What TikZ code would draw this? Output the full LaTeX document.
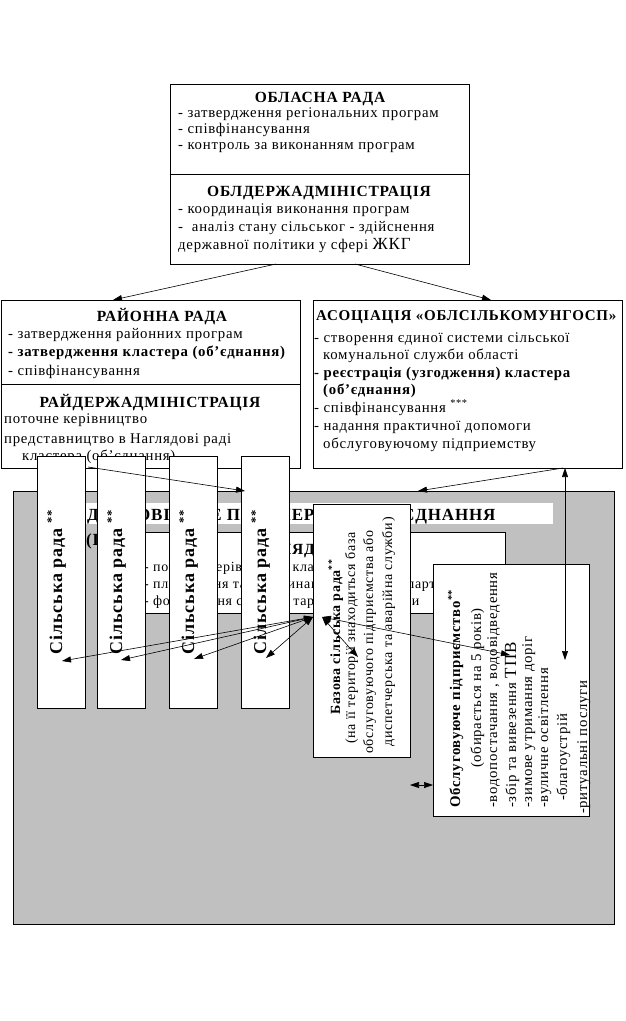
\documentclass[tikz,border=0pt]{standalone}
\usepackage{fontspec}
\setmainfont{Liberation Serif}[LetterSpace=5]
\usetikzlibrary{arrows.meta}
\definecolor{silverbg}{RGB}{192,192,192}
\tikzset{
  box/.style={draw, line width=0.9pt, fill=white, inner sep=0pt, outer sep=0pt, anchor=north west},
  rg/.style={font=\fontsize{14.8}{17}\selectfont, inner sep=0pt, anchor=base west},
  rgs/.style={font=\fontsize{14}{16}\selectfont, inner sep=0pt, anchor=base west},
  bl/.style={font=\fontsize{14.8}{17}\selectfont\bfseries, inner sep=0pt, anchor=base west},
  hd/.style={font=\fontsize{15.5}{18}\selectfont\bfseries, inner sep=0pt, anchor=base},
  ttl/.style={font=\fontsize{17}{20}\selectfont\bfseries, inner sep=0pt, anchor=base west},
  vrg/.style={font=\fontsize{14.8}{17}\selectfont, inner sep=0pt, rotate=90, anchor=base west},
  vrs/.style={font=\fontsize{14}{16}\selectfont, inner sep=0pt, rotate=90, anchor=base},
  vbl/.style={font=\fontsize{14.8}{17}\selectfont\bfseries, inner sep=0pt, rotate=90, anchor=base west},
  vil/.style={font=\fontsize{18}{20}\selectfont\bfseries, inner sep=0pt, rotate=90, anchor=base},
  arr/.style={line width=0.6pt, -{Triangle[length=9pt,width=6pt]}},
  darr/.style={line width=0.6pt, {Triangle[length=9pt,width=6pt]}-{Triangle[length=9pt,width=6pt]}},
}
\begin{document}
\begin{tikzpicture}[x=1pt,y=-1pt]
\useasboundingbox (0,0) rectangle (626,1021);
\fill[white] (0,0) rectangle (626,1021);

% ---- top box
\node[box, minimum width=299pt, minimum height=180pt] (obl) at (170,84) {};
\node[hd] (t01) at (320,102) {ОБЛАСНА РАДА};
\node[rg] (t02) at (178,117) {- затвердження регіональних програм};
\node[rg] (t03) at (178,133) {- співфінансування};
\node[rg] (t04) at (178,149) {- контроль за виконанням програм};
\draw[line width=0.9pt] (170,174) -- (469,174);
\node[hd] (t05) at (319,196) {ОБЛДЕРЖАДМІНІСТРАЦІЯ};
\node[rg] (t06) at (178,213) {- координація виконання програм};
\node[rg] (t07) at (178,231) {-~ аналіз стану сільськог - здійснення};
\node[rg] (t08) at (178,249) {державної політики у сфері {\fontsize{17}{19}\selectfont ЖКГ}};

% ---- district box
\node[box, minimum width=299pt, minimum height=168pt] (rai) at (1,300) {};
\node[hd] (t10) at (162,321) {РАЙОННА РАДА};
\node[rg] (t11) at (8,338) {- затвердження районних програм};
\node[bl] (t12) at (8,356) {- затвердження кластера (об’єднання)};
\node[rg] (t13) at (8,375) {- співфінансування};
\draw[line width=0.9pt] (1,384) -- (300,384);
\node[hd] (t14) at (150,407) {РАЙДЕРЖАДМІНІСТРАЦІЯ};
\node[rg] (t15) at (4,423) {поточне керівництво};
\node[rg] (t16) at (4,443) {представництво в Наглядові раді};
\node[rg] (t17) at (22,460) {кластера (об’єднання)};

% ---- association box
\node[box, minimum width=309pt, minimum height=168pt] (aso) at (313,300) {};
\node[hd, anchor=base west, font=\fontsize{15}{18}\selectfont\bfseries] (t20) at (316,320) {АСОЦІАЦІЯ «ОБЛСІЛЬКОМУНГОСП»};
\node[rg] (t21) at (314,342) {- створення єдиної системи сільської};
\node[rg] (t22) at (323,359) {комунальної служби області};
\node[bl] (t23) at (314,377) {- реєстрація (узгодження) кластера};
\node[bl] (t24) at (323,394) {(об’єднання)};
\node[rg] (t25) at (314,412) {- співфінансування \textsuperscript{***}};
\node[rg] (t26) at (314,430) {- надання практичної допомоги};
\node[rg] (t27) at (323,448) {обслуговуючому підприемству};

% ---- cluster area
\node[box, fill=silverbg, minimum width=601pt, minimum height=433pt] (clu) at (13,491) {};
\node[fill=white, inner sep=0pt, outer sep=0pt, anchor=north west, minimum width=503pt, minimum height=21pt] (strip) at (50,503) {};
\node[ttl] (t30) at (87,520) {ДОБРОВІЛЬНЕ ПАРТНЕРСЬКЕ ОБ’ЄДНАННЯ};
\node[ttl] (t31) at (86,545) {(ПАРТНЕРСТВО)};

% ---- supervisory board
\node[box, minimum width=365pt, minimum height=81pt] (nag) at (140,532) {};
\node[hd] (t32) at (322,554) {НАГЛЯДОВА РАДА};
\node[rgs] (t33) at (144,571) {- поточне керівництво кластера};
\node[rgs] (t34) at (144,588) {- планування та координація діяльності партнерів};
\node[rgs] (t35) at (144,605) {- формування системи тарифів на послуги};

% ---- base village council
\node[box, minimum width=97pt, minimum height=253pt] (bas) at (313,504) {};
\node[vrs, font=\fontsize{14}{16}\selectfont\bfseries] (t40) at (340,637) {Базова сільська рада\textsuperscript{**}};
\node[vrs] (t41) at (355,638) {(на її території знаходиться база};
\node[vrs] (t42) at (373,642) {обслуговуючого підприємства або};
\node[vrs] (t43) at (392,632) {диспетчерська та аварійна служби)};

% ---- service enterprise
\node[box, minimum width=156pt, minimum height=252pt] (srv) at (433,564) {};
\node[vbl] (t50) at (460,808) {Обслуговуюче підприємство\textsuperscript{**}};
\node[vrg, anchor=base] (t51) at (481,688) {(обирається на 5 років)};
\node[vrg] (t52) at (497,808) {-водопостачання , водовідведення};
\node[vrg] (t53) at (516,808) {-збір та вивезення {\fontsize{17}{19}\selectfont ТПВ}};
\node[vrg] (t54) at (532,808) {-зимове утримання доріг};
\node[vrg] (t55) at (548,808) {-вуличне освітлення};
\node[vrg] (t56) at (567,801) {-благоустрій};
\node[vrg] (t57) at (587,814) {-ритуальні послуги};

% ---- village councils
\node[box, minimum width=48pt, minimum height=252pt] (v1) at (37,456) {};
\node[box, minimum width=48pt, minimum height=252pt] (v2) at (97,456) {};
\node[box, minimum width=48pt, minimum height=252pt] (v3) at (169,456) {};
\node[box, minimum width=48pt, minimum height=252pt] (v4) at (241,456) {};
\node[vil] (tv1) at (62,582) {Сільська рада \textsuperscript{**}};
\node[vil] (tv2) at (122,582) {Сільська рада \textsuperscript{**}};
\node[vil] (tv3) at (194,582) {Сільська рада \textsuperscript{**}};
\node[vil] (tv4) at (266,582) {Сільська рада \textsuperscript{**}};

% ---- connectors
\coordinate (a1s) at (276,264); \coordinate (a1e) at (113,300);
\coordinate (a2s) at (355,264); \coordinate (a2e) at (491,300);
\coordinate (a3s) at (88,467);  \coordinate (a3e) at (245,491);
\coordinate (a4s) at (563,468); \coordinate (a4e) at (418,491);
\coordinate (a5s) at (565,468); \coordinate (a5e) at (565,660);
\coordinate (f0) at (313,617);
\coordinate (f1) at (62,661); \coordinate (f2) at (121,660);
\coordinate (f3) at (194,659); \coordinate (f4) at (266,658);
\coordinate (g0) at (322,617);
\coordinate (g1) at (358,657); \coordinate (g2) at (510,655);
\coordinate (h1) at (410,785); \coordinate (h2) at (433,785);

\draw[arr] (a1s) -- (a1e);
\draw[arr] (a2s) -- (a2e);
\draw[arr] (a3s) -- (a3e);
\draw[arr] (a4s) -- (a4e);
\draw[darr] (a5s) -- (a5e);
\draw[darr] (f0) -- (f1);
\draw[darr] (f0) -- (f2);
\draw[darr] (f0) -- (f3);
\draw[darr] (f0) -- (f4);
\draw[darr] (g0) -- (g1);
\draw[darr] (g0) -- (g2);
\draw[darr] (h1) -- (h2);
\end{tikzpicture}
\end{document}
